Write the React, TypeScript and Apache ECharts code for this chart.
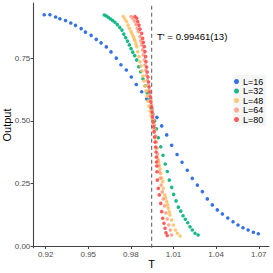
import React, { useEffect, useRef } from "react";
import * as echarts from "echarts";

const seriesNames = ["L=16", "L=32", "L=48", "L=64", "L=80"];
const colors = ["#1f63e6", "#00b37a", "#ffc266", "#ff9f86", "#ff4a4a"];

const tL16 = [0.919, 0.923, 0.927, 0.930, 0.934, 0.9377, 0.941, 0.945, 0.948, 0.952, 0.9556, 0.959, 0.9627, 0.966, 0.9697, 0.973, 0.9768, 0.9803, 0.9838, 0.9876, 0.9911, 0.9946, 0.9983, 1.0017, 1.0052, 1.0087, 1.0125, 1.016, 1.0197, 1.0232, 1.0268, 1.0303, 1.0338, 1.0373, 1.0408, 1.0444, 1.0482, 1.0519, 1.0554, 1.0589, 1.0625, 1.0662, 1.0697];
const vL16 = [0.923, 0.923, 0.914, 0.907, 0.900, 0.890, 0.881, 0.868, 0.854, 0.841, 0.825, 0.811, 0.795, 0.775, 0.750, 0.724, 0.703, 0.675, 0.645, 0.616, 0.587, 0.550, 0.514, 0.480, 0.444, 0.403, 0.366, 0.335, 0.303, 0.271, 0.244, 0.218, 0.189, 0.165, 0.145, 0.129, 0.113, 0.098, 0.085, 0.074, 0.065, 0.056, 0.050];

const tL32 = [0.9613, 0.9628, 0.9642, 0.9657, 0.9672, 0.9688, 0.9704, 0.9721, 0.9737, 0.975, 0.9763, 0.9776, 0.9789, 0.9801, 0.9813, 0.9827, 0.9841, 0.9855, 0.9869, 0.9885, 0.99, 0.9914, 0.9927, 0.994, 0.9954, 0.9967, 0.998, 0.9993, 1.001, 1.0026, 1.0042, 1.0056, 1.007, 1.0087, 1.0101, 1.0118, 1.0134, 1.0151, 1.0167, 1.0183, 1.02, 1.0216, 1.0232, 1.0251, 1.0273];
const vL32 = [0.922, 0.918, 0.912, 0.906, 0.9, 0.893, 0.884, 0.873, 0.862, 0.846, 0.832, 0.818, 0.803, 0.788, 0.774, 0.76, 0.743, 0.716, 0.696, 0.668, 0.64, 0.612, 0.583, 0.555, 0.527, 0.5, 0.468, 0.433, 0.397, 0.363, 0.328, 0.298, 0.264, 0.235, 0.207, 0.181, 0.156, 0.14, 0.122, 0.108, 0.094, 0.078, 0.065, 0.052, 0.045];

const tL48 = [0.9746, 0.9758, 0.977, 0.978, 0.9789, 0.9801, 0.9809, 0.9817, 0.9823, 0.9829, 0.9836, 0.9841, 0.9848, 0.9857, 0.9864, 0.9871, 0.9878, 0.9885, 0.9892, 0.9899, 0.9906, 0.9913, 0.992, 0.9927, 0.9935, 0.9942, 0.9949, 0.9956, 0.9963, 0.997, 0.9977, 0.9986, 0.9994, 1.0, 1.0005, 1.001, 1.0017, 1.0024, 1.0028, 1.0038, 1.0045, 1.0052, 1.0058, 1.0063, 1.007, 1.0075, 1.0087, 1.0099, 1.0113, 1.0127, 1.0146];
const vL48 = [0.916, 0.906, 0.896, 0.882, 0.869, 0.856, 0.846, 0.836, 0.827, 0.819, 0.807, 0.796, 0.776, 0.756, 0.736, 0.719, 0.699, 0.679, 0.659, 0.639, 0.619, 0.599, 0.579, 0.559, 0.54, 0.523, 0.508, 0.492, 0.464, 0.432, 0.392, 0.353, 0.336, 0.324, 0.308, 0.29, 0.272, 0.258, 0.231, 0.205, 0.193, 0.178, 0.165, 0.152, 0.137, 0.125, 0.105, 0.085, 0.065, 0.052, 0.041];

const tL64 = [0.9801, 0.9813, 0.9824, 0.9836, 0.9845, 0.9852, 0.9864, 0.9869, 0.9876, 0.9883, 0.9887, 0.9894, 0.9899, 0.9905, 0.991, 0.9916, 0.9922, 0.9927, 0.9933, 0.9939, 0.9944, 0.995, 0.9955, 0.996, 0.9965, 0.997, 0.9975, 0.9979, 0.9984, 0.9988, 0.9992, 0.9996, 1.0001, 1.0007, 1.0013, 1.002, 1.0028, 1.0037, 1.0046, 1.0056, 1.0066, 1.0077, 1.0087];
const vL64 = [0.916, 0.909, 0.898, 0.885, 0.869, 0.856, 0.836, 0.819, 0.803, 0.783, 0.763, 0.743, 0.723, 0.703, 0.683, 0.663, 0.643, 0.623, 0.603, 0.583, 0.563, 0.544, 0.524, 0.504, 0.484, 0.464, 0.44, 0.416, 0.392, 0.368, 0.344, 0.32, 0.296, 0.272, 0.244, 0.217, 0.189, 0.161, 0.133, 0.109, 0.085, 0.065, 0.045];

const tL80 = [0.9829, 0.9841, 0.9848, 0.9857, 0.9864, 0.9876, 0.9883, 0.9887, 0.9894, 0.9899, 0.9904, 0.9906, 0.9911, 0.9915, 0.992, 0.9924, 0.9928, 0.9933, 0.9937, 0.9941, 0.9945, 0.9949, 0.9952, 0.9956, 0.996, 0.9963, 0.9967, 0.997, 0.9974, 0.9977, 0.9979, 0.998, 0.9982, 0.9983, 0.9986, 0.9993, 1.0, 1.001, 1.0017, 1.0024, 1.0033, 1.004, 1.0047, 1.0056];
const vL80 = [0.916, 0.909, 0.896, 0.882, 0.866, 0.849, 0.829, 0.813, 0.796, 0.776, 0.756, 0.736, 0.715, 0.695, 0.675, 0.655, 0.635, 0.615, 0.595, 0.575, 0.555, 0.535, 0.516, 0.496, 0.476, 0.456, 0.436, 0.416, 0.396, 0.376, 0.356, 0.336, 0.32, 0.297, 0.264, 0.231, 0.205, 0.171, 0.138, 0.112, 0.092, 0.072, 0.054, 0.043];

const xTicks = [0.92, 0.95, 0.98, 1.01, 1.04, 1.07];
const yTicks = [0, 0.25, 0.5, 0.75];
const xRange = [0.9113, 1.0772];
const yRange = [-0.0056, 0.97];
const tCritical = 0.99461;
const tCriticalLabel = "T' = 0.99461(13)";

const allT = [tL16, tL32, tL48, tL64, tL80];
const allV = [vL16, vL32, vL48, vL64, vL80];

const FONT = "'Liberation Sans', Arial, sans-serif";

export default function App() {
  const ref = useRef<HTMLDivElement>(null);
  useEffect(() => {
    if (!ref.current) return;
    const chart = echarts.init(ref.current, null, { renderer: "svg" });
    const series: any[] = seriesNames.map((name, i) => ({
      name,
      type: "scatter",
      symbol: "circle",
      symbolSize: 3.6,
      itemStyle: { color: colors[i], opacity: 0.9 },
      data: allT[i].map((t, j) => [t, allV[i][j]]),
      z: 3 + i,
    }));
    series.push({
      name: "critical",
      type: "line",
      silent: true,
      symbol: "none",
      lineStyle: { color: "#666666", type: [4, 3], width: 1.1 },
      data: [
        [tCritical, yRange[0]],
        [tCritical, yRange[1]],
      ],
      z: 1,
    });
    chart.setOption({
      animation: false,
      textStyle: { fontFamily: FONT },
      grid: { left: 33.3, right: 4, top: 3, bottom: 25.3, containLabel: false },
      xAxis: {
        type: "value",
        min: xRange[0],
        max: xRange[1],
        splitLine: { show: false },
        axisLine: { lineStyle: { color: "#444444", width: 1.1 } },
        axisTick: { length: 2.7, customValues: xTicks, lineStyle: { color: "#444444" } },
        axisLabel: {
          customValues: xTicks,
          formatter: (v: number) => v.toFixed(2),
          color: "#4d4d4d",
          fontSize: 8,
          margin: 3,
          fontFamily: FONT,
        },
      },
      yAxis: {
        type: "value",
        min: yRange[0],
        max: yRange[1],
        splitLine: { show: false },
        axisLine: { show: true, lineStyle: { color: "#444444", width: 1.1 } },
        axisTick: { show: true, length: 2.7, customValues: yTicks, lineStyle: { color: "#444444" } },
        axisLabel: {
          customValues: yTicks,
          formatter: (v: number) => v.toFixed(2),
          color: "#4d4d4d",
          fontSize: 8,
          margin: 3,
          fontFamily: FONT,
        },
      },
      legend: {
        orient: "vertical",
        left: 233,
        top: 75,
        padding: [2, 3, 2, 1],
        backgroundColor: "#f5f5f5",
        itemWidth: 5,
        itemHeight: 5,
        itemGap: 0.5,
        icon: "circle",
        textStyle: { fontSize: 9, color: "#000", fontFamily: FONT, lineHeight: 9, padding: [0, 0, 0, -1] },
        data: seriesNames,
      },
      graphic: [
        {
          type: "text",
          left: 157,
          top: 31,
          style: { text: tCriticalLabel, fontSize: 9.6, fill: "#000", fontFamily: FONT },
        },
        {
          type: "text",
          x: 151.7,
          y: 264,
          style: { text: "T", fontSize: 11, fill: "#000", fontFamily: FONT, align: "center", verticalAlign: "middle" },
        },
        {
          type: "text",
          x: 7,
          y: 125,
          rotation: Math.PI / 2,
          style: { text: "Output", fontSize: 11, fill: "#000", fontFamily: FONT, align: "center", verticalAlign: "middle" },
        },
      ],
      series,
    });
    return () => chart.dispose();
  }, []);
  return (
    <div
      ref={ref}
      style={{ position: "fixed", left: 0, top: 0, width: 273, height: 273, background: "#fff" }}
    />
  );
}
